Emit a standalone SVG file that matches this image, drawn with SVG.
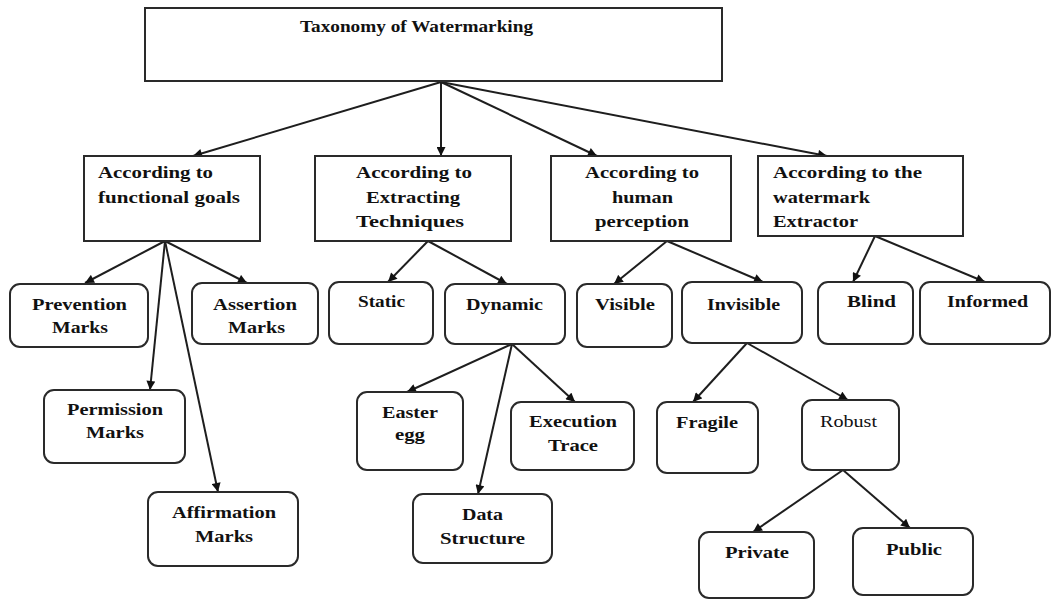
<svg xmlns="http://www.w3.org/2000/svg" width="1053" height="599" viewBox="0 0 1053 599">
  <style>
    .box { fill: #ffffff; stroke: #2a2a2a; stroke-width: 2; }
    .rbox { fill: #ffffff; stroke: #2a2a2a; stroke-width: 2; }
    .edge { fill: none; stroke: #1e1e1e; stroke-width: 2; marker-end: url(#arrow); }
    text { font-family: "Liberation Serif", "Times New Roman", serif; font-size: 17px; font-weight: bold; fill: #111111; }
    .reg { font-weight: normal; }
  </style>
  <defs>
    <marker id="arrow" viewBox="0 0 10 10" refX="10" refY="5" markerWidth="10" markerHeight="9" markerUnits="userSpaceOnUse" orient="auto">
      <path d="M0,0 L10,5 L0,10 z" fill="#111111"/>
    </marker>
  </defs>
  <rect width="1053" height="599" fill="#ffffff"/>

  <!-- connectors -->
  <g id="connectors">
    <line class="edge" x1="441" y1="82" x2="193" y2="156"/>
    <line class="edge" x1="441" y1="82" x2="441" y2="156"/>
    <line class="edge" x1="441" y1="82" x2="597" y2="156"/>
    <line class="edge" x1="441" y1="82" x2="827" y2="156"/>

    <line class="edge" x1="165" y1="241" x2="85" y2="283"/>
    <line class="edge" x1="165" y1="241" x2="247" y2="283"/>
    <line class="edge" x1="165" y1="241" x2="150" y2="390"/>
    <line class="edge" x1="165" y1="241" x2="218" y2="492"/>

    <line class="edge" x1="428" y1="241" x2="388" y2="282"/>
    <line class="edge" x1="428" y1="241" x2="507" y2="284"/>

    <line class="edge" x1="667" y1="241" x2="614" y2="284"/>
    <line class="edge" x1="667" y1="241" x2="763" y2="282"/>

    <line class="edge" x1="875" y1="236" x2="853" y2="282"/>
    <line class="edge" x1="875" y1="236" x2="985" y2="282"/>

    <line class="edge" x1="512" y1="344" x2="407" y2="392"/>
    <line class="edge" x1="512" y1="344" x2="575" y2="402"/>
    <line class="edge" x1="512" y1="344" x2="478" y2="494"/>

    <line class="edge" x1="747" y1="343" x2="693" y2="402"/>
    <line class="edge" x1="747" y1="343" x2="848" y2="400"/>

    <line class="edge" x1="843" y1="470" x2="753" y2="532"/>
    <line class="edge" x1="843" y1="470" x2="910" y2="528"/>
  </g>

  <!-- root -->
  <g id="root">
    <rect class="box" x="145" y="8" width="577" height="73"/>
    <text x="300" y="32" textLength="233" lengthAdjust="spacingAndGlyphs">Taxonomy of Watermarking</text>
  </g>

  <!-- first level -->
  <g id="functional-goals">
    <rect class="box" x="84" y="156" width="176" height="85"/>
    <text x="98" y="178" textLength="115" lengthAdjust="spacingAndGlyphs">According to</text>
    <text x="98" y="203" textLength="142" lengthAdjust="spacingAndGlyphs">functional goals</text>
  </g>
  <g id="extracting-techniques">
    <rect class="box" x="315" y="156" width="196" height="85"/>
    <text x="356" y="178" textLength="116" lengthAdjust="spacingAndGlyphs">According to</text>
    <text x="366" y="203" textLength="94" lengthAdjust="spacingAndGlyphs">Extracting</text>
    <text x="356" y="227" textLength="108" lengthAdjust="spacingAndGlyphs">Techniques</text>
  </g>
  <g id="human-perception">
    <rect class="box" x="551" y="156" width="180" height="85"/>
    <text x="585" y="178" textLength="114" lengthAdjust="spacingAndGlyphs">According to</text>
    <text x="612" y="203" textLength="61" lengthAdjust="spacingAndGlyphs">human</text>
    <text x="595" y="227" textLength="94" lengthAdjust="spacingAndGlyphs">perception</text>
  </g>
  <g id="watermark-extractor">
    <rect class="box" x="758" y="156" width="205" height="80"/>
    <text x="773" y="178" textLength="149" lengthAdjust="spacingAndGlyphs">According to the</text>
    <text x="773" y="203" textLength="97" lengthAdjust="spacingAndGlyphs">watermark</text>
    <text x="773" y="227" textLength="85" lengthAdjust="spacingAndGlyphs">Extractor</text>
  </g>

  <!-- second level -->
  <g id="prevention-marks">
    <rect class="rbox" x="10" y="284" width="138" height="63" rx="10"/>
    <text x="32" y="310" textLength="95" lengthAdjust="spacingAndGlyphs">Prevention</text>
    <text x="52" y="333" textLength="56" lengthAdjust="spacingAndGlyphs">Marks</text>
  </g>
  <g id="assertion-marks">
    <rect class="rbox" x="192" y="283" width="126" height="61" rx="10"/>
    <text x="213" y="310" textLength="84" lengthAdjust="spacingAndGlyphs">Assertion</text>
    <text x="228" y="333" textLength="57" lengthAdjust="spacingAndGlyphs">Marks</text>
  </g>
  <g id="static">
    <rect class="rbox" x="329" y="282" width="104" height="62" rx="10"/>
    <text x="358" y="307" textLength="47" lengthAdjust="spacingAndGlyphs">Static</text>
  </g>
  <g id="dynamic">
    <rect class="rbox" x="445" y="284" width="120" height="60" rx="10"/>
    <text x="466" y="310" textLength="77" lengthAdjust="spacingAndGlyphs">Dynamic</text>
  </g>
  <g id="visible">
    <rect class="rbox" x="577" y="284" width="95" height="63" rx="10"/>
    <text x="595" y="310" textLength="60" lengthAdjust="spacingAndGlyphs">Visible</text>
  </g>
  <g id="invisible">
    <rect class="rbox" x="682" y="282" width="120" height="61" rx="10"/>
    <text x="707" y="310" textLength="73" lengthAdjust="spacingAndGlyphs">Invisible</text>
  </g>
  <g id="blind">
    <rect class="rbox" x="818" y="282" width="95" height="62" rx="10"/>
    <text x="847" y="307" textLength="49" lengthAdjust="spacingAndGlyphs">Blind</text>
  </g>
  <g id="informed">
    <rect class="rbox" x="920" y="282" width="130" height="62" rx="10"/>
    <text x="947" y="307" textLength="81" lengthAdjust="spacingAndGlyphs">Informed</text>
  </g>

  <!-- third level -->
  <g id="permission-marks">
    <rect class="rbox" x="44" y="390" width="141" height="73" rx="10"/>
    <text x="67" y="415" textLength="96" lengthAdjust="spacingAndGlyphs">Permission</text>
    <text x="86" y="438" textLength="58" lengthAdjust="spacingAndGlyphs">Marks</text>
  </g>
  <g id="affirmation-marks">
    <rect class="rbox" x="148" y="492" width="150" height="74" rx="10"/>
    <text x="172" y="518" textLength="104" lengthAdjust="spacingAndGlyphs">Affirmation</text>
    <text x="195" y="542" textLength="58" lengthAdjust="spacingAndGlyphs">Marks</text>
  </g>
  <g id="easter-egg">
    <rect class="rbox" x="357" y="392" width="106" height="78" rx="10"/>
    <text x="382" y="418" textLength="56" lengthAdjust="spacingAndGlyphs">Easter</text>
    <text x="395" y="440" textLength="30" lengthAdjust="spacingAndGlyphs">egg</text>
  </g>
  <g id="execution-trace">
    <rect class="rbox" x="511" y="402" width="123" height="68" rx="10"/>
    <text x="529" y="427" textLength="88" lengthAdjust="spacingAndGlyphs">Execution</text>
    <text x="548" y="451" textLength="50" lengthAdjust="spacingAndGlyphs">Trace</text>
  </g>
  <g id="data-structure">
    <rect class="rbox" x="413" y="494" width="139" height="69" rx="10"/>
    <text x="462" y="520" textLength="41" lengthAdjust="spacingAndGlyphs">Data</text>
    <text x="440" y="544" textLength="85" lengthAdjust="spacingAndGlyphs">Structure</text>
  </g>
  <g id="fragile">
    <rect class="rbox" x="657" y="402" width="101" height="71" rx="10"/>
    <text x="676" y="428" textLength="62" lengthAdjust="spacingAndGlyphs">Fragile</text>
  </g>
  <g id="robust">
    <rect class="rbox" x="802" y="400" width="97" height="70" rx="10"/>
    <text class="reg" x="820" y="427" textLength="57" lengthAdjust="spacingAndGlyphs">Robust</text>
  </g>

  <!-- fourth level -->
  <g id="private">
    <rect class="rbox" x="699" y="532" width="115" height="66" rx="10"/>
    <text x="725" y="558" textLength="64" lengthAdjust="spacingAndGlyphs">Private</text>
  </g>
  <g id="public">
    <rect class="rbox" x="853" y="528" width="120" height="67" rx="10"/>
    <text x="886" y="555" textLength="56" lengthAdjust="spacingAndGlyphs">Public</text>
  </g>
</svg>
